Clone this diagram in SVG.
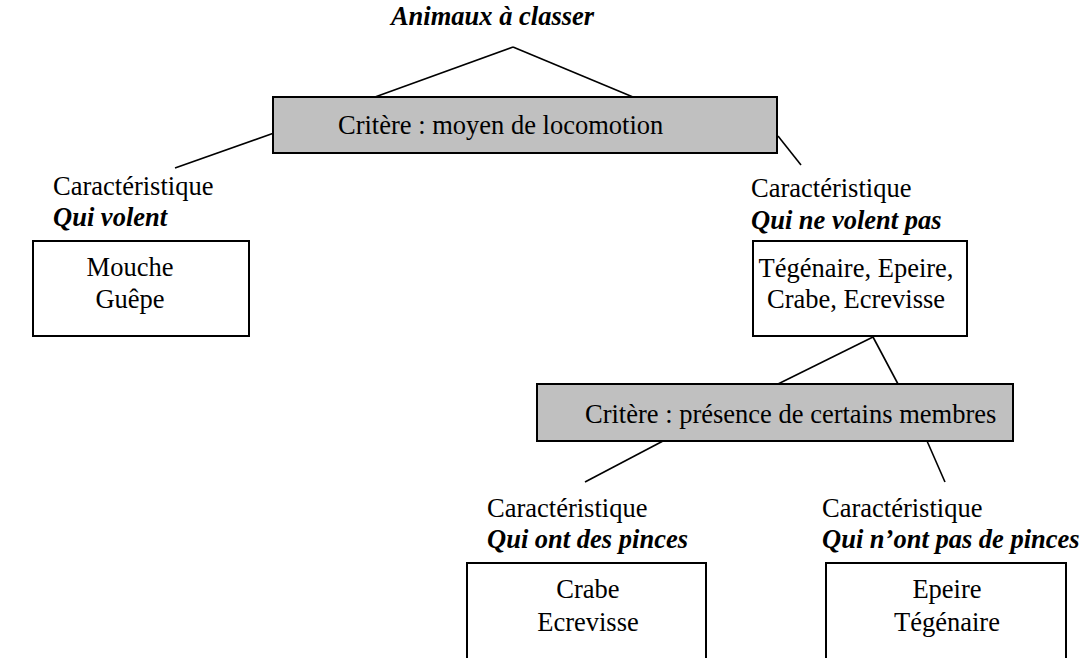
<svg xmlns="http://www.w3.org/2000/svg" width="1084" height="658" viewBox="0 0 1084 658">
  <style>
    text { font-family: "Liberation Serif", "Times New Roman", serif; font-size: 26.5px; fill: #000; }
    .title, .trait { font-weight: bold; font-style: italic; }
    .mid { text-anchor: middle; }
    .box { fill: #fff; stroke: #000; stroke-width: 2; }
    .crit { fill: #c0c0c0; stroke: #000; stroke-width: 2; }
    .link { stroke: #000; stroke-width: 1.6; fill: none; }
  </style>
  <rect width="1084" height="658" fill="#fff"/>

  <!-- branches of the classification tree -->
  <g id="connectors">
    <line class="link" x1="513" y1="47" x2="375" y2="97"/>
    <line class="link" x1="513" y1="47" x2="633" y2="97"/>
    <line class="link" x1="274" y1="133" x2="175" y2="168"/>
    <line class="link" x1="778" y1="136" x2="801" y2="165"/>
    <line class="link" x1="873" y1="337" x2="778" y2="384"/>
    <line class="link" x1="873" y1="337" x2="898" y2="384"/>
    <line class="link" x1="663" y1="441" x2="585" y2="482"/>
    <line class="link" x1="927" y1="441" x2="945" y2="482"/>
  </g>

  <g id="root">
    <text class="title mid" x="492.5" y="25">Animaux à classer</text>
  </g>

  <g id="critere-locomotion">
    <rect class="crit" x="273" y="97" width="504" height="56"/>
    <text x="338" y="134">Critère : moyen de locomotion</text>
  </g>

  <g id="volent">
    <text x="53" y="195">Caractéristique</text>
    <text class="trait" x="53" y="226">Qui volent</text>
    <rect class="box" x="33" y="241" width="216" height="95"/>
    <text class="mid" x="130" y="276">Mouche</text>
    <text class="mid" x="130" y="308">Guêpe</text>
  </g>

  <g id="ne-volent-pas">
    <text x="751" y="197">Caractéristique</text>
    <text class="trait" x="751" y="229">Qui ne volent pas</text>
    <rect class="box" x="753" y="241" width="214" height="95"/>
    <text class="mid" x="856" y="277">Tégénaire, Epeire,</text>
    <text class="mid" x="856" y="308">Crabe, Ecrevisse</text>
  </g>

  <g id="critere-membres">
    <rect class="crit" x="537" y="384" width="476" height="57"/>
    <text x="585" y="423">Critère : présence de certains membres</text>
  </g>

  <g id="pinces">
    <text x="487" y="517">Caractéristique</text>
    <text class="trait" x="487" y="548">Qui ont des pinces</text>
    <rect class="box" x="467" y="563" width="239" height="110"/>
    <text class="mid" x="588" y="598">Crabe</text>
    <text class="mid" x="588" y="631">Ecrevisse</text>
  </g>

  <g id="sans-pinces">
    <text x="822" y="517">Caractéristique</text>
    <text class="trait" x="822" y="548">Qui n’ont pas de pinces</text>
    <rect class="box" x="826" y="563" width="240" height="110"/>
    <text class="mid" x="947" y="598">Epeire</text>
    <text class="mid" x="947" y="631">Tégénaire</text>
  </g>
</svg>
